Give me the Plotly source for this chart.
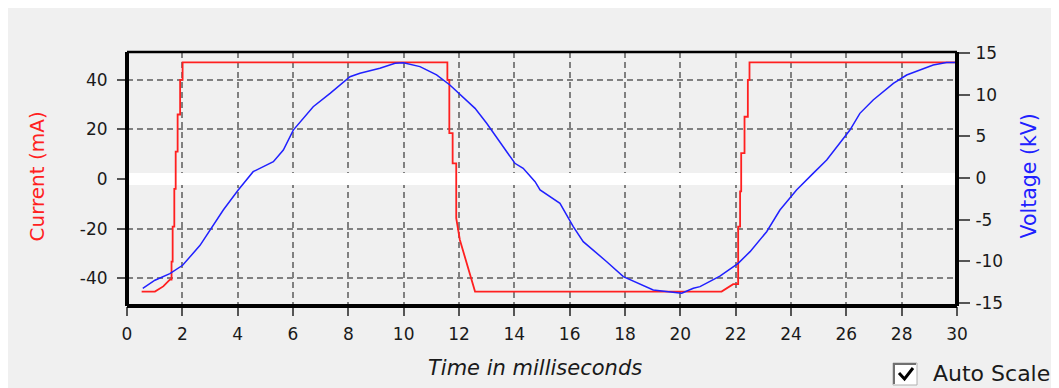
import plotly.graph_objects as go

# ---------------- data ----------------
time_current = [0.53, 1.01, 1.31, 1.55, 1.61, 1.61, 1.65, 1.65, 1.71, 1.71, 1.76, 1.76,
                1.83, 1.83, 1.92, 1.92, 2.01, 2.01,
                11.58, 11.58, 11.65, 11.65, 11.77, 11.77, 11.9, 11.9, 12.03, 12.58,
                21.49, 21.91, 22.09, 22.09, 22.16, 22.16, 22.2, 22.2, 22.32, 22.32,
                22.44, 22.44, 22.5, 22.5, 30.0]
current_mA = [-45.4, -45.4, -43.3, -40.6, -40.6, -33.3, -33.3, -19.2, -19.2, -4.0, -4.0, 11.0,
              11.0, 26.0, 26.0, 40.0, 40.0, 47.0,
              47.0, 40.0, 40.0, 18.5, 18.5, 6.3, 6.3, -15.8, -24.5, -45.4,
              -45.4, -42.4, -42.4, -19.2, -19.2, -5.0, -5.0, 10.4, 10.4, 25.1,
              25.1, 40.0, 40.0, 47.0, 47.0]

time_voltage = [0.57, 1.01, 1.55, 2.01, 2.64, 3.0, 3.48, 4.02, 4.56, 5.29, 5.65, 6.01,
                6.73, 7.34, 8.06, 8.42, 9.14, 9.69, 9.99, 10.59, 11.19, 11.67, 12.58,
                13.0, 13.6, 14.02, 14.32, 14.75, 14.93, 15.65, 16.13, 16.49, 17.34,
                17.94, 19.02, 20.05, 20.47, 20.71, 21.43, 22.09, 22.52, 23.12, 23.6,
                24.2, 24.8, 25.29, 26.13, 26.49, 26.97, 27.7, 28.18, 29.14, 29.62, 29.98]
voltage_kV = [-13.27, -12.3, -11.5, -10.5, -8.1, -6.3, -3.85, -1.44, 0.76, 1.96, 3.37, 5.77,
              8.58, 10.19, 12.19, 12.6, 13.2, 13.8, 13.87, 13.4, 12.4, 11.19, 8.38,
              6.58, 3.77, 1.77, 1.17, -0.44, -1.44, -3.05, -5.86, -7.66, -10.07,
              -11.87, -13.47, -13.87, -13.27, -13.07, -11.8, -10.27, -8.86, -6.46, -3.85,
              -1.44, 0.56, 2.17, 5.77, 7.78, 9.38, 11.39, 12.39, 13.59, 13.9, 13.9]

x_ticks = list(range(0, 31, 2))
x_ticklabels = [str(v) for v in x_ticks]
y_ticks = [-40, -20, 0, 20, 40]
y_ticklabels = ["-40", "-20", "0", "20", "40"]
y2_ticks = [-15, -10, -5, 0, 5, 10, 15]
y2_ticklabels = ["-15", "-10", "-5", "0", "5", "10", "15"]

# ---------------- layout geometry ----------------
# the page body has an 8px margin, so the figure starts at (8, 8) of the window
OFF = 8
W, H = 1059 - OFF, 388 - OFF
L, R, T, B = 119, 102, 44, 82
PW, PH = W - L - R, H - T - B


def px(X):  # X in window pixels
    return (X - OFF - L) / PW


def py(Y):  # Y in window pixels
    return (H - B - (Y - OFF)) / PH


FONT = "DejaVu Sans"
TXT = "#1a1a1a"
GRID = "#808080"

fig = go.Figure()
fig.add_trace(go.Scatter(x=time_current, y=current_mA, mode="lines",
                         line=dict(color="#ff2020", width=1.8), yaxis="y",
                         hoverinfo="skip", showlegend=False))
fig.add_trace(go.Scatter(x=time_voltage, y=voltage_kV, mode="lines",
                         line=dict(color="#2020ff", width=1.5), yaxis="y2",
                         hoverinfo="skip", showlegend=False))

tickcommon = dict(ticks="outside", tickwidth=1.5, tickcolor="#555555",
                  tickfont=dict(family=FONT, size=17, color=TXT), automargin=False)

fig.update_layout(
    width=W, height=H,
    margin=dict(l=L, r=R, t=T, b=B, pad=0),
    paper_bgcolor="#f0f0f0",
    plot_bgcolor="#f0f0f0",
    showlegend=False,
    xaxis=dict(range=[0, 30], tickvals=x_ticks, ticktext=x_ticklabels, ticklen=9,
               showgrid=True, gridcolor=GRID, gridwidth=1.5, griddash="6px,4px",
               zeroline=False, showline=False, ticklabelstandoff=4, **tickcommon),
    yaxis=dict(range=[-51.2, 51.2], tickvals=y_ticks, ticktext=y_ticklabels, ticklen=9,
               showgrid=True, gridcolor=GRID, gridwidth=1.5, griddash="6px,4px",
               zeroline=True, zerolinecolor="#ffffff", zerolinewidth=12,
               showline=False, ticklabelstandoff=6, **tickcommon),
    yaxis2=dict(range=[-15.4, 15.16], tickvals=y2_ticks, ticktext=y2_ticklabels, ticklen=12,
                overlaying="y", side="right", showgrid=False, zeroline=False,
                showline=False, ticklabelstandoff=2, **tickcommon),
)

shapes = [
    # plot frame
    dict(type="line", xref="paper", yref="paper", x0=0, x1=1, y0=1, y1=1,
         line=dict(color="black", width=2.5), layer="above"),
    dict(type="line", xref="paper", yref="paper", x0=0, x1=1, y0=0, y1=0,
         line=dict(color="black", width=4), layer="above"),
    dict(type="line", xref="paper", yref="paper", x0=0, x1=0, y0=0, y1=1,
         line=dict(color="black", width=4), layer="above"),
    dict(type="line", xref="paper", yref="paper", x0=1, x1=1, y0=0, y1=1,
         line=dict(color="black", width=4), layer="above"),
    # checkbox
    dict(type="rect", xref="paper", yref="paper", x0=px(893), x1=px(917), y0=py(385), y1=py(363),
         fillcolor="#ffffff", line=dict(color="#b0b0b0", width=1), layer="above"),
    dict(type="path", xref="paper", yref="paper",
         path=f"M {px(894)},{py(384)} L {px(894)},{py(364)} L {px(916)},{py(364)}",
         line=dict(color="#707070", width=2), layer="above"),
    dict(type="path", xref="paper", yref="paper",
         path=f"M {px(899)},{py(373)} L {px(904.5)},{py(379)} L {px(913)},{py(368)}",
         line=dict(color="#000000", width=3), layer="above"),
]
fig.update_layout(shapes=shapes)

annotations = [
    dict(text="Current (mA)", x=px(36.5), y=py(177), textangle=-90,
         font=dict(family=FONT, size=20, color="#ff2020")),
    dict(text="Voltage (kV)", x=px(1028), y=py(176.5), textangle=-90,
         font=dict(family=FONT, size=20.5, color="#2020ff")),
    dict(text="<i>Time in milliseconds</i>", x=px(535), y=py(368),
         font=dict(family=FONT, size=21, color=TXT)),
    dict(text="Auto Scale", x=px(931), y=py(373.5), xanchor="left",
         font=dict(family=FONT, size=22, color=TXT)),
]
for a in annotations:
    a.setdefault("xanchor", "center")
    a.update(xref="paper", yref="paper", yanchor="middle", showarrow=False)
fig.update_layout(annotations=annotations)

fig.write_html("out.html")
